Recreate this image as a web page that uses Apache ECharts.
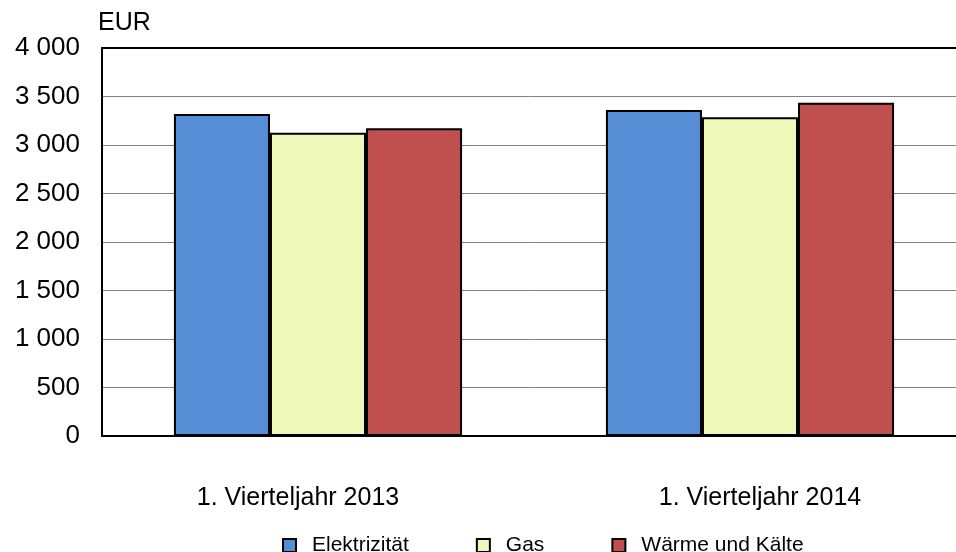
<!DOCTYPE html>
<html><head><meta charset="utf-8">
<script src="https://cdn.jsdelivr.net/npm/echarts@6/dist/echarts.min.js"></script>
<style>html,body{margin:0;padding:0;background:#fff}#c{width:956px;height:552px}</style>
</head><body><div id="c"></div>
<script>
const categories = ['1. Vierteljahr 2013', '1. Vierteljahr 2014'];
const elektrizitaet = [3320, 3360];
const gas = [3127, 3285];
const waerme = [3172, 3436];
const seriesNames = ['Elektrizität', 'Gas', 'Wärme und Kälte'];
const colors = ['#558ED5', '#EEF9B9', '#C0504D'];

const chart = echarts.init(document.getElementById('c'));
const font = 'Liberation Sans, Arial, sans-serif';
const labelPads = [[0, 40, 0, 0], [0, 0, 0, 20]];
function bar(name, data, color) {
  return {
    name, type: 'bar', data, barGap: '0%', barCategoryGap: '33.3%',
    itemStyle: { color, borderColor: '#000', borderWidth: 2 }
  };
}
chart.setOption({
  animation: false,
  grid: { left: 102, width: 864, top: 48, bottom: 116, containLabel: false, outerBoundsMode: 'none' },
  legend: {
    top: 535, left: 282, padding: 0, itemGap: 67, itemWidth: 13, itemHeight: 13,
    icon: 'rect',
    textStyle: { fontFamily: font, fontSize: 21, color: '#000', padding: [0, 0, 0, 11] },
    itemStyle: { borderColor: '#000', borderWidth: 2 },
    data: seriesNames
  },
  xAxis: [{
    type: 'category',
    data: categories.map((c, i) => ({ value: c, textStyle: { padding: labelPads[i] } })),
    axisLine: { lineStyle: { color: '#000', width: 2 } },
    axisTick: { show: false },
    axisLabel: { margin: 50, fontFamily: font, fontSize: 25, color: '#000' }
  }, {
    type: 'category', data: categories, position: 'top',
    axisLine: { lineStyle: { color: '#000', width: 2 } },
    axisTick: { show: false }, axisLabel: { show: false }
  }],
  yAxis: {
    type: 'value', min: 0, max: 4000, interval: 500,
    name: 'EUR', nameGap: 12, nameLocation: 'end',
    nameTextStyle: { fontFamily: font, fontSize: 25, color: '#000', align: 'left', padding: [0, 0, 0, -4] },
    axisLine: { show: true, lineStyle: { color: '#000', width: 2 } },
    axisTick: { show: false },
    splitLine: { lineStyle: { color: '#808080', width: 1 } },
    axisLabel: {
      margin: 22, fontFamily: font, fontSize: 26, color: '#000',
      formatter: v => String(v).replace(/\B(?=(\d{3})+(?!\d))/g, ' ')
    }
  },
  series: [
    bar(seriesNames[0], elektrizitaet, colors[0]),
    bar(seriesNames[1], gas, colors[1]),
    bar(seriesNames[2], waerme, colors[2])
  ]
});
</script></body></html>
